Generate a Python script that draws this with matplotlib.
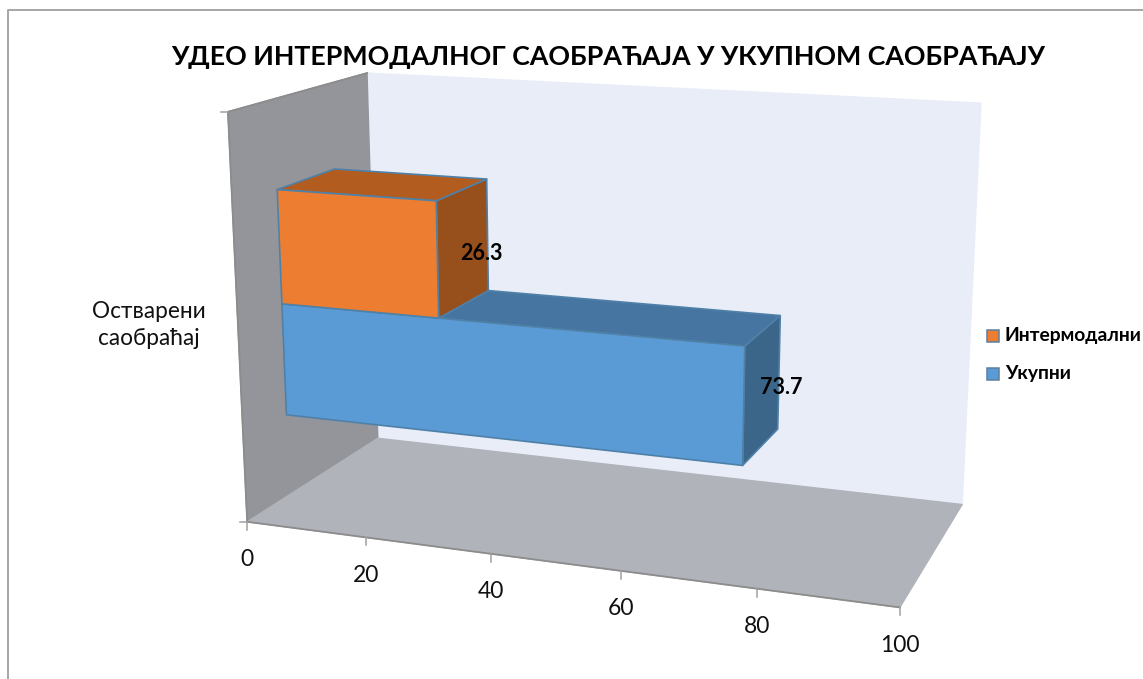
import numpy as np
import matplotlib
matplotlib.use('Agg')
import matplotlib.pyplot as plt

plt.rcParams['font.family'] = ['Lato', 'Open Sans', 'DejaVu Sans']

title = 'УДЕО ИНТЕРМОДАЛНОГ САОБРАЋАЈА У УКУПНОМ САОБРАЋАЈУ'
category = 'Остварени\nсаобраћај'
series_names = ['Интермодални', 'Укупни']
series_values = [26.3, 73.7]
x_ticks = [0, 20, 40, 60, 80, 100]

# box corners (value, depth, height) -> where they sit in the picture
world = np.array([[0, 0, 0], [100, 0, 0], [100, 1, 0], [0, 1, 0],
                  [0, 0, 1], [0, 1, 1], [100, 1, 1]], dtype=float)
pixels = np.array([[247, 522], [900, 607], [962, 505], [378, 438],
                   [228, 112], [367, 73], [981, 103]], dtype=float)


def fit_projection(w, p):
    rows = []
    rhs = []
    for (x, y, z), (u, v) in zip(w, p):
        rows.append([x, y, z, 1, 0, 0, 0, 0, -u * x, -u * y, -u * z])
        rows.append([0, 0, 0, 0, x, y, z, 1, -v * x, -v * y, -v * z])
        rhs += [u, v]
    m = np.linalg.lstsq(np.array(rows), np.array(rhs), rcond=None)[0]
    return np.append(m, 1).reshape(3, 4)


P = fit_projection(world, pixels)


def proj(x, y, z):
    u, v, s = P @ np.array([x, y, z, 1.0])
    return u / s, v / s


def face(ax, pts, color, edge=None, lw=1.0, z=1):
    xy = [proj(*p) for p in pts]
    ax.fill([a[0] for a in xy], [a[1] for a in xy], facecolor=color,
            edgecolor=edge if edge else color, linewidth=lw, zorder=z, joinstyle='round')


def bar3d(ax, value, y0, y1, z0, z1, front, top, side, zo):
    edge = '#4f81a8'
    face(ax, [(value, y0, z0), (value, y1, z0), (value, y1, z1), (value, y0, z1)], side, edge, 1.2, zo)
    face(ax, [(0, y0, z1), (value, y0, z1), (value, y1, z1), (0, y1, z1)], top, edge, 1.2, zo)
    face(ax, [(0, y0, z0), (value, y0, z0), (value, y0, z1), (0, y0, z1)], front, edge, 1.2, zo)


fig = plt.figure(figsize=(11.43, 6.79), dpi=100)
ax = fig.add_axes([0, 0, 1, 1])
ax.set_xlim(0, 1143)
ax.set_ylim(679, 0)
ax.axis('off')

# chart border
ax.plot([8, 8, 1143], [679, 10, 10], color='#a6a6a6', lw=1.4, zorder=0)

# walls
face(ax, [(0, 1, 0), (100, 1, 0), (100, 1, 1), (0, 1, 1)], '#e9edf8')
face(ax, [(0, 0, 0), (0, 1, 0), (0, 1, 1), (0, 0, 1)], '#93959a')
face(ax, [(0, 0, 0), (100, 0, 0), (100, 1, 0), (0, 1, 0)], '#b0b3ba')

# wall edges
edge_c = '#8c8c8c'
for a, b in [((0, 0, 0), (0, 0, 1)), ((0, 0, 1), (0, 1, 1)), ((0, 0, 0), (100, 0, 0))]:
    pa, pb = proj(*a), proj(*b)
    ax.plot([pa[0], pb[0]], [pa[1], pb[1]], color=edge_c, lw=1.3, zorder=2)

# ticks and labels on value axis
for t in x_ticks:
    u, v = proj(t, 0, 0)
    ax.plot([u, u], [v, v + 8], color='#a0a0a0', lw=1.1, zorder=2)
    ax.text(u, v + 38, str(t), ha='center', va='center', fontsize=16.5, color='#111111')
for zt in [0, 1]:
    u, v = proj(0, 0, zt)
    ax.plot([u - 7, u], [v, v], color='#a0a0a0', lw=1.1, zorder=2)

# bars: lower one is Укупни, upper one Интермодални
y0, y1 = 0.30, 0.72
bar3d(ax, series_values[1], y0, y1, 0.21, 0.495, '#5b9bd5', '#4775a1', '#3c6689', 3)
bar3d(ax, series_values[0], y0, y1, 0.495, 0.78, '#ed7d31', '#b35c20', '#974f1c', 4)

# data labels
u, v = proj(series_values[0], y1, 0.59)
ax.text(u - 6, v, '26.3', ha='center', va='center', fontsize=15.5, fontweight='bold', color='black', zorder=6)
u, v = proj(series_values[1], y1, 0.315)
ax.text(u + 3, v, '73.7', ha='center', va='center', fontsize=15.5, fontweight='bold', color='black', zorder=6)

ax.text(149, 325, category, ha='center', va='center', fontsize=16.3, color='#111111', linespacing=1.4)
ax.text(608, 57, title, ha='center', va='center', fontsize=19.3, fontweight='bold', color='black')

# legend
for name, yy, col in zip(series_names, [336, 374], ['#ed7d31', '#5b9bd5']):
    ax.add_patch(plt.Rectangle((987, yy - 6), 12, 12, facecolor=col, edgecolor='#5b7f9e', lw=1.1))
    ax.text(1005, yy, name, ha='left', va='center', fontsize=13.9, fontweight='bold', color='black')

fig.savefig('out.png', dpi=100)
